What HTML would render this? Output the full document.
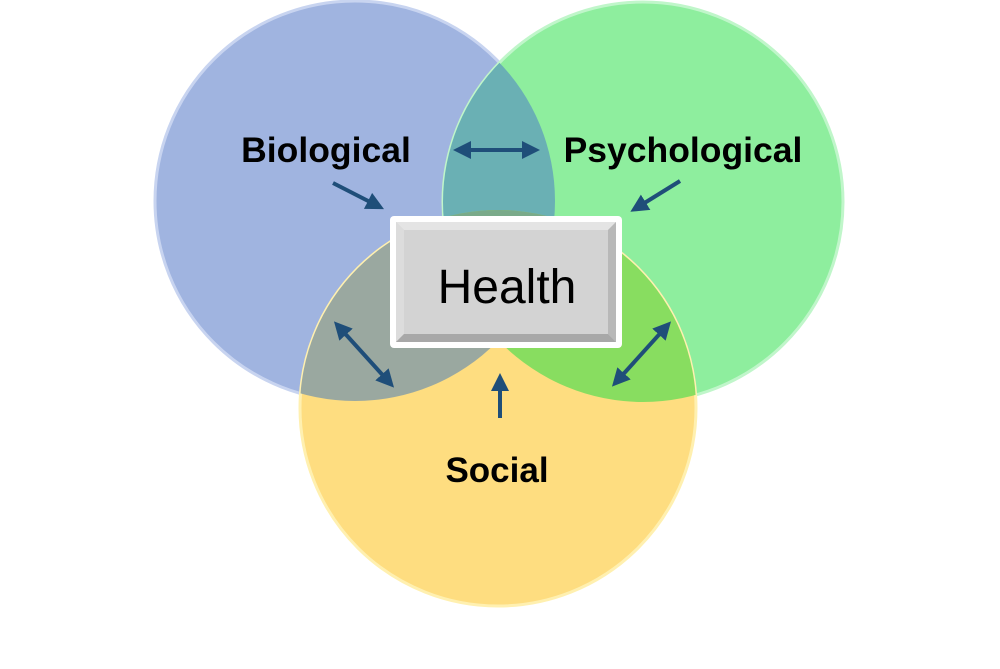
<!DOCTYPE html>
<html><head><meta charset="utf-8"><style>
html,body{margin:0;padding:0;background:#fff;width:1000px;height:669px;overflow:hidden}
svg{display:block}
text{font-family:"Liberation Sans",Arial,sans-serif}
</style></head><body>
<svg width="1000" height="669" viewBox="0 0 1000 669" xmlns="http://www.w3.org/2000/svg">
<defs>
<clipPath id="cB"><circle cx="355" cy="201" r="200"/></clipPath>
<clipPath id="cG"><circle cx="643" cy="202" r="200"/></clipPath>
<clipPath id="cY"><circle cx="498" cy="408" r="198"/></clipPath>
<marker id="ah" viewBox="0 0 10 10" refX="5" refY="5" markerWidth="4.5" markerHeight="4.5" orient="auto-start-reverse"><path d="M0,0 L10,5 L0,10 z" fill="#1F4E79"/></marker>
</defs>
<circle cx="355" cy="201" r="200" fill="#A0B4E0" stroke="#C8D4F0" stroke-width="3"/>
<circle cx="643" cy="202" r="200" fill="#8EEE9E" stroke="#C0F6CA" stroke-width="3"/>
<circle cx="498" cy="408" r="198" fill="#FEDD80" stroke="#FFF0B0" stroke-width="3"/>
<g clip-path="url(#cB)"><circle cx="643" cy="202" r="200" fill="#6AB0B4"/></g>
<g clip-path="url(#cB)"><circle cx="498" cy="408" r="198" fill="#9AA8A0"/></g>
<g clip-path="url(#cG)"><circle cx="498" cy="408" r="198" fill="#88DD60"/></g>
<g clip-path="url(#cB)"><g clip-path="url(#cG)"><circle cx="498" cy="408" r="198" fill="#7AAA8A"/></g></g>
<g stroke="#1F4E79" stroke-width="4" fill="none">
<line x1="333" y1="183" x2="376" y2="205" marker-end="url(#ah)"/>
<line x1="462" y1="150" x2="531" y2="150" marker-start="url(#ah)" marker-end="url(#ah)"/>
<line x1="680" y1="181" x2="638" y2="207" marker-end="url(#ah)"/>
<line x1="340" y1="328" x2="388" y2="381" marker-start="url(#ah)" marker-end="url(#ah)"/>
<line x1="500" y1="418" x2="500" y2="382" marker-end="url(#ah)"/>
<line x1="665" y1="328" x2="618" y2="380" marker-start="url(#ah)" marker-end="url(#ah)"/>
</g>
<text x="326" y="162" font-size="35.5" font-weight="bold" text-anchor="middle" fill="#000">Biological</text>
<text x="683" y="162" font-size="35.5" font-weight="bold" text-anchor="middle" fill="#000">Psychological</text>
<text x="497" y="482" font-size="35" font-weight="bold" text-anchor="middle" fill="#000">Social</text>
<rect x="390" y="216" width="232" height="132" rx="4" fill="#fff"/>
<rect x="396" y="222" width="220" height="120" fill="#D3D3D3"/>
<path d="M396,222 L616,222 L608,230 L404,230 Z" fill="#E4E4E4"/>
<path d="M396,222 L404,230 L404,334 L396,342 Z" fill="#DCDCDC"/>
<path d="M616,222 L616,342 L608,334 L608,230 Z" fill="#B8B8B8"/>
<path d="M396,342 L616,342 L608,334 L404,334 Z" fill="#A8A8A8"/>
<text x="507" y="303" font-size="48" text-anchor="middle" fill="#000">Health</text>
</svg>
</body></html>
